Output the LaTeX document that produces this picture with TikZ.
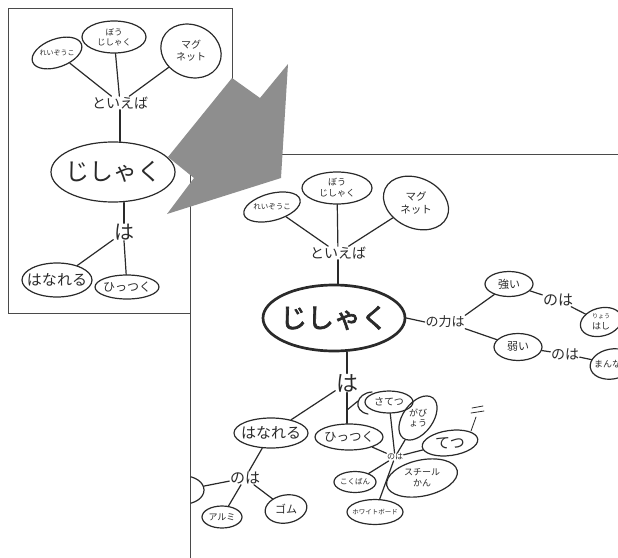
\documentclass[tikz,border=0pt]{standalone}
\usepackage{fontspec}
\newfontfamily\jp{Noto Sans CJK JP}
\newfontfamily\jpb[FakeBold=2.5]{Noto Sans CJK JP}
\usetikzlibrary{shapes.geometric}
\definecolor{inkc}{HTML}{2A2A2A}
\definecolor{framec}{HTML}{4A4A4A}
\definecolor{arrowc}{HTML}{8E8E8E}
\newcommand\jfs[1]{\fontsize{#1}{\dimexpr #1pt*12/10\relax}\selectfont}
% bubble: name, x, y, width, height, outline rotation, font size, text, text rotation
\newcommand\bub[9]{%
  \node[bubble, minimum width=#4, minimum height=#5, rotate=#6] (#1) at (#2,#3) {};
  \node[word, rotate=#9, font=\jp\jfs{#7}] (#1-t) at (#1) {#8};}
\begin{document}
\begin{tikzpicture}[x=1pt,y=-1pt,
  ink/.style={draw=inkc,line width=1.2pt,line cap=round},
  bubble/.style={ellipse,draw=inkc,line width=1.2pt,inner sep=0pt},
  word/.style={inner sep=0.5pt,text=inkc,align=center},
  panel/.style={draw=framec,line width=1pt}]
\useasboundingbox (0,0) rectangle (618,557);

% ---------- first (small) map ----------
\draw[panel] (8,8) rectangle (232,313);
\bub{r1}{57}{53}{52}{28}{20}{7}{れいぞうこ}{0}
\bub{b1}{114}{37}{64}{32}{0}{8.5}{ぼう\\じしゃく}{0}
\bub{m1}{191}{51}{62}{52}{-25}{10}{マグ\\ネット}{0}
\node[word, font=\jp\jfs{14}] (t1) at (120,103) {といえば};
\bub{j1}{113}{172}{124}{60}{0}{24}{じしゃく}{0}
\node[word, font=\jp\jfs{20}] (h1) at (124,232) {は};
\bub{hn1}{57}{280}{70}{34}{0}{15}{はなれる}{0}
\bub{hk1}{127}{287}{64}{24}{0}{12}{ひっつく}{0}

\draw[ink] (r1) -- (t1);
\draw[ink] (b1) -- (t1);
\draw[ink] (m1) -- (t1);
\draw[ink] (t1.south) -- (t1.south |- j1.north);
\draw[ink] (h1.north) -- (h1.north |- j1.south);
\draw[ink] (h1) -- (hn1);
\draw[ink] (h1.south) -- (hk1);

% ---------- second (large) map ----------
\fill[white] (190,154) rectangle (620,560);
\draw[panel] (190,560) -- (190,154) -- (620,154);
\begin{scope}
\clip (190.5,154.5) rectangle (618,557);
\bub{r2}{272}{207}{58}{27}{15}{7.5}{れいぞうこ}{0}
\bub{b2}{337}{188}{70}{32}{0}{9}{ぼう\\じしゃく}{0}
\bub{m2}{416}{203}{68}{50}{-25}{10.5}{マグ\\ネット}{0}
\node[word, font=\jp\jfs{14}] (t2) at (338,253) {といえば};
\node[bubble, line width=2.7pt, minimum width=142, minimum height=66] (j2) at (334,318) {};
\node[word, font=\jpb\jfs{27}] (j2-t) at (j2) {じしゃく};
\node[word, font=\jp\jfs{13}] (nc) at (445,322) {の力は};
\bub{ts}{509}{284}{48}{25}{0}{11}{強い}{0}
\node[word, font=\jp\jfs{15}] (n1) at (558,300) {のは};
\bub{hs}{601}{322}{42}{28}{15}{9}{{\jfs{6}りょう}\\はし}{0}
\bub{yw}{518}{347}{48}{27}{0}{11}{弱い}{0}
\node[word, font=\jp\jfs{14}] (n2) at (565,354) {のは};
\bub{mn}{612}{364}{44}{30}{10}{9}{まんなか}{0}

\node[word, font=\jp\jfs{22}] (h2) at (347,383) {は};
\bub{hn2}{271}{433}{74}{30}{0}{15}{はなれる}{0}
\bub{hk2}{349}{437}{68}{26}{0}{12.5}{ひっつく}{0}
\node[word, font=\jp\jfs{15}] (n3) at (245,478) {のは};
\bub{lc}{184}{490}{40}{28}{0}{9}{}{0}
\bub{al}{222}{517}{40}{22}{0}{9}{アルミ}{0}
\bub{gm}{286}{509}{42}{28}{10}{11}{ゴム}{0}

\node[word, font=\jp\jfs{8}] (n4) at (395,457) {のは};
\bub{st}{389}{402}{48}{22}{0}{10}{さてつ}{0}
\bub{gb}{418}{418}{50}{30}{54}{9}{がび\\ょう}{0}
\bub{te}{450}{443}{56}{25}{8}{15}{てつ}{0}
\bub{sc}{422}{478}{72}{36}{12}{9}{スチール\\かん}{0}
\bub{kb}{355}{482}{42}{21}{0}{7.5}{こくばん}{0}
\bub{wb}{375}{512}{56}{25}{0}{6.5}{ホワイトボード}{0}

% links of the large map
\draw[ink] (r2) -- (t2);
\draw[ink] (b2) -- (t2);
\draw[ink] (m2) -- (t2);
\draw[ink] (t2.south) -- (t2.south |- j2.north);
\draw[ink] (j2.east) -- (nc.west);
\draw[ink] (nc.north east) -- (ts);
\draw[ink] (nc.south east) -- (yw);
\draw[ink] (ts) -- (n1);
\draw[ink] (n1) -- (hs);
\draw[ink] (yw) -- (n2);
\draw[ink] (n2) -- (mn);
\draw[ink] (h2.north) -- (h2.north |- j2.south);
\draw[ink] (h2) -- (hn2);
\draw[ink] (h2.south) -- (h2.south |- hk2.north);
\draw[ink] (hn2) -- (n3);
\draw[ink] (n3) -- (lc);
\draw[ink] (n3) -- (al);
\draw[ink] (n3) -- (gm);
\draw[ink] (hk2) -- (n4);
\draw[ink] (st) -- (n4);
\draw[ink] (gb) -- (n4);
\draw[ink] (te) -- (n4);
\draw[ink] (kb) -- (n4);
\draw[ink] (wb) -- (n4);

% extra pen strokes around さてつ and てつ
\draw[ink] (372,392) .. controls (356,393) and (352,411) .. (368,414);
\draw[ink] (347,410) -- (358,401);
\draw[ink, line width=0.8pt] (472,408) -- (483,406);
\draw[ink, line width=0.8pt] (471,413) -- (484,411);
\draw[ink, line width=0.8pt] (476,417) -- (471,431);
\end{scope}

% ---------- the big grey arrow ----------
\fill[arrowc] (232,78) -- (260,98) -- (288,64) -- (281,178) -- (167,214)
  -- (194,178) -- (168,157) -- cycle;
\end{tikzpicture}
\end{document}
